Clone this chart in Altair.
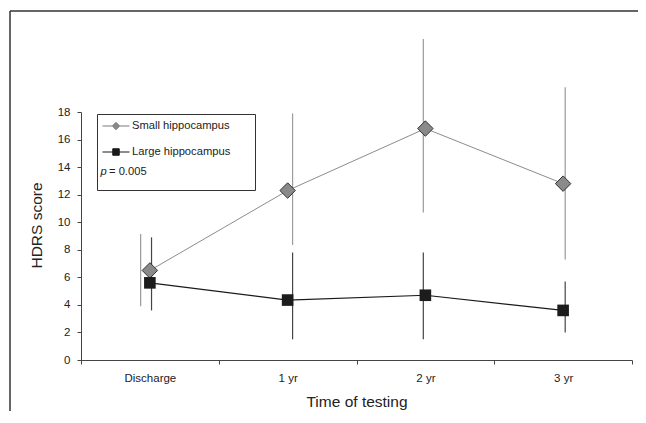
import altair as alt
import pandas as pd

# ---- data ----
categories = ["Discharge", "1 yr", "2 yr", "3 yr"]
series = ["Small hippocampus", "Large hippocampus"]
small_mean = [6.5, 12.3, 16.8, 12.8]
small_low = [3.9, 8.35, 10.7, 7.3]
small_high = [9.15, 17.9, 23.3, 19.8]
large_mean = [5.6, 4.35, 4.7, 3.6]
large_low = [3.6, 1.5, 1.5, 2.0]
large_high = [8.9, 7.8, 7.8, 5.7]
# small horizontal displacement of the error bars seen in the original figure (category units)
small_bar_shift = [-0.067, 0.036, -0.015, 0.015]
large_bar_shift = [0.012, 0.036, -0.015, 0.015]
y_ticks = list(range(0, 19, 2))
p_italic = "p"
p_rest = "= 0.005"

FONT = "Liberation Sans"

rows = []
for name, means, lows, highs, shifts in [
    (series[0], small_mean, small_low, small_high, small_bar_shift),
    (series[1], large_mean, large_low, large_high, large_bar_shift),
]:
    for i, cat in enumerate(categories):
        rows.append({
            "series": name, "cat": cat, "pos": i + 0.5, "barpos": i + 0.5 + shifts[i],
            "mean": means[i], "low": lows[i], "high": highs[i],
        })
df = pd.DataFrame(rows)
small_df = df[df.series == series[0]]
large_df = df[df.series == series[1]]

cat_array = "[" + ",".join("'" + c + "'" for c in categories) + "]"
x_axis = alt.Axis(
    values=[i * 0.5 for i in range(2 * len(categories) + 1)],
    labelExpr=f"datum.value % 1 !== 0 ? {cat_array}[floor(datum.value)] : ''",
    tickOpacity={"condition": {"test": "datum.value % 1 !== 0", "value": 0}, "value": 1},
    grid=False, tickSize=4, labelPadding=8, domainColor="#444", tickColor="#444",
    labelFont=FONT, labelFontSize=11.5, labelColor="#222",
    title="Time of testing", titleFont=FONT, titleFontSize=15.5, titleFontWeight="normal",
    titleColor="#222", titleY=41, titleBaseline="middle",
)
y_axis = alt.Axis(
    values=y_ticks, grid=False, tickSize=4, labelPadding=7, domainColor="#444", tickColor="#444",
    labelFont=FONT, labelFontSize=11.5, labelColor="#222",
    title="HDRS score", titleFont=FONT, titleFontSize=15.5, titleFontWeight="normal",
    titleColor="#222", titleX=-45, titleY=113, titleBaseline="middle", titleAlign="center",
)
x_scale = alt.Scale(domain=[0, len(categories)], nice=False, zero=False)
y_scale = alt.Scale(domain=[0, 18], nice=False)


def X(field):
    return alt.X(f"{field}:Q", scale=x_scale, axis=x_axis, title="Time of testing")


def Y(field):
    return alt.Y(f"{field}:Q", scale=y_scale, axis=y_axis, title="HDRS score")


err_small = alt.Chart(small_df).mark_rule(color="#9a9a9a", strokeWidth=1.2).encode(
    x=X("barpos"), y=Y("low"), y2="high:Q")
err_large = alt.Chart(large_df).mark_rule(color="#444444", strokeWidth=1.2).encode(
    x=X("barpos"), y=Y("low"), y2="high:Q")
line_small = alt.Chart(small_df).mark_line(color="#8c8c8c", strokeWidth=1).encode(
    x=X("pos"), y=Y("mean"), order="pos:Q")
line_large = alt.Chart(large_df).mark_line(color="#1a1a1a", strokeWidth=1.2).encode(
    x=X("pos"), y=Y("mean"), order="pos:Q")
pts_small = alt.Chart(small_df).mark_point(
    shape="diamond", size=240, filled=True, color="#8a8a8a", stroke="#333333",
    strokeWidth=1, opacity=1).encode(x=X("pos"), y=Y("mean"))
pts_large = alt.Chart(large_df).mark_point(
    shape="square", size=135, filled=True, color="#1c1c1c", opacity=1).encode(
    x=X("pos"), y=Y("mean"))

# legend (native Vega-Lite legend, symbol = line through marker)
legend_domain = series + [" "]
path_small = "M-1,0L-0.27,0M0.27,0L1,0M-0.27,0L0,-0.27L0.27,0L0,0.27Z"
path_large = "M-1,0L1,0M-0.24,-0.24L0.24,-0.24L0.24,0.24L-0.24,0.24Z"
leg = alt.Legend(
    orient="none", legendX=16, legendY=2, strokeColor="#333",
    padding=5, symbolSize=729, symbolStrokeWidth=1, labelFont=FONT, labelFontSize=11.2,
    labelColor="#222", labelOffset=2, clipHeight=14, rowPadding=12,
    cornerRadius=0, symbolOpacity=1,
    # invisible spacer title to give the box the width of the original
    title="MM", titleOrient="right", titleFontSize=10, titleOpacity=0, titlePadding=3,
)
legend_layer = alt.Chart(df).transform_filter("false").mark_point(
    filled=True, size=729, strokeWidth=1, opacity=1).encode(
    x=X("pos"), y=Y("mean"),
    shape=alt.Shape("series:N", scale=alt.Scale(domain=legend_domain,
                    range=[path_small, path_large, "circle"]), legend=leg),
    fill=alt.Fill("series:N", scale=alt.Scale(domain=legend_domain,
                  range=["#8a8a8a", "#1a1a1a", "transparent"]), legend=leg),
    stroke=alt.Stroke("series:N", scale=alt.Scale(domain=legend_domain,
                      range=["#7a7a7a", "#1a1a1a", "transparent"]), legend=leg),
)

one = pd.DataFrame({"k": [0]})
p1 = alt.Chart(one).mark_text(font=FONT, fontSize=11.2, fontStyle="italic", align="left",
                              baseline="middle", color="#222").encode(
    x=alt.value(19.5), y=alt.value(60), text=alt.value(p_italic))
p2 = alt.Chart(one).mark_text(font=FONT, fontSize=11.2, align="left", baseline="middle",
                              color="#222").encode(
    x=alt.value(28), y=alt.value(60), text=alt.value(p_rest))

# outer figure frame (top and left edges)
frame_top = alt.Chart(one).mark_rule(color="#333", strokeWidth=1.5).encode(
    x=alt.value(-71), x2=alt.value(557), y=alt.value(-101))
frame_left = alt.Chart(one).mark_rule(color="#333", strokeWidth=1.5).encode(
    x=alt.value(-71), y=alt.value(-101), y2=alt.value(400))

chart = alt.layer(
    frame_top, frame_left, err_small, err_large, line_small, line_large,
    pts_small, pts_large, legend_layer, p1, p2,
).properties(
    width=551, height=248,
    background="white",
    autosize=alt.AutoSizeParams(type="none"),
    padding={"left": 73, "top": 104, "right": 6, "bottom": 51},
).configure_view(stroke="transparent", strokeWidth=0)

chart.save("out.html", embed_options={"renderer": "svg", "actions": False})
